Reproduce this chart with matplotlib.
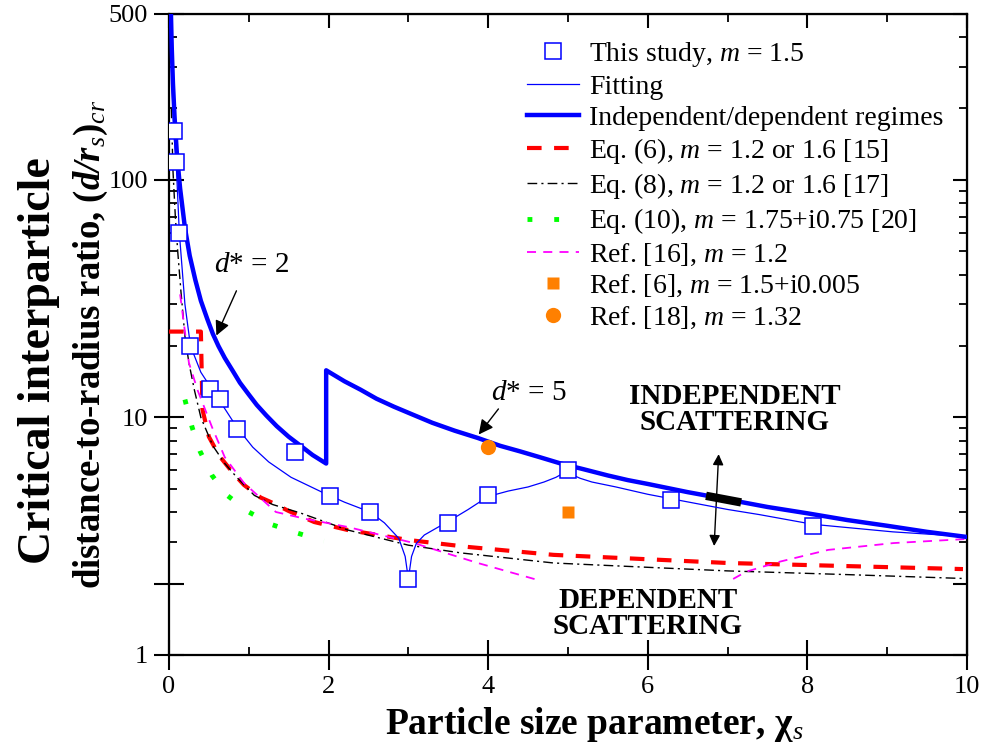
import numpy as np
import matplotlib
matplotlib.use('Agg')
import matplotlib.pyplot as plt
from matplotlib.lines import Line2D

plt.rcParams['font.family'] = ['Liberation Serif', 'DejaVu Serif']
plt.rcParams['mathtext.fontset'] = 'custom'
plt.rcParams['mathtext.rm'] = 'Liberation Serif'
plt.rcParams['mathtext.it'] = 'Liberation Serif:italic'
plt.rcParams['mathtext.bf'] = 'Liberation Serif:bold'
plt.rcParams['mathtext.bfit'] = 'Liberation Serif:bold:italic'

# this study, m = 1.5 (squares)
study_x = [0.06, 0.09, 0.13, 0.27, 0.51, 0.64, 0.85, 1.58, 2.02, 2.52, 3.0, 3.5, 4.0, 5.0, 6.29, 8.07]
study_y = [161, 119, 60, 20, 13.2, 12.0, 8.95, 7.16, 4.67, 4.0, 2.09, 3.6, 4.72, 6.0, 4.5, 3.49]

# fitting curve
fit_x = [0.03, 0.06, 0.09, 0.13, 0.2, 0.27, 0.4, 0.51, 0.64, 0.85, 1.05, 1.25, 1.53, 1.94, 2.2, 2.52, 2.7, 2.88,
         2.96, 3.0, 3.04, 3.1, 3.2, 3.35, 3.5, 3.75, 4.0, 4.25, 4.5, 4.7, 4.85, 4.95, 5.0,
         5.05, 5.15, 5.3, 5.6, 6.0, 6.29, 7.0, 7.4, 8.07, 9.07, 10]
fit_y = [300, 161, 119, 60, 30, 20, 15.5, 13.6, 11.7, 9.1, 7.5, 6.5, 5.6, 4.81, 4.4, 4.0, 3.6, 3.1,
         2.6, 2.09, 2.6, 2.95, 3.2, 3.42, 3.65, 4.1, 4.65, 4.9, 5.1, 5.35, 5.6, 5.85, 6.05,
         5.75, 5.55, 5.35, 5.1, 4.75, 4.55, 4.1, 3.9, 3.55, 3.3, 3.15]

# independent/dependent regime boundary (d* = 2 then d* = 5)
reg_x = [0.025, 0.035, 0.05, 0.07, 0.1, 0.14, 0.2, 0.26, 0.33, 0.4, 0.48, 0.55, 0.62, 0.7, 0.8, 0.89,
         1.0, 1.1, 1.22, 1.35, 1.5, 1.65, 1.8, 1.97,
         1.97, 2.2, 2.4, 2.6, 2.82, 3.05, 3.3, 3.58, 3.87, 4.15, 4.4, 4.65, 4.91, 5.2, 5.5, 5.75,
         6.0, 6.5, 6.95, 7.5, 8.0, 8.5, 9.0, 9.5, 10]
reg_y = [500, 360, 255, 185, 128, 92, 63, 48, 38, 31, 26, 22.5, 20, 17.8, 15.7, 14.0,
         12.5, 11.3, 10.2, 9.2, 8.3, 7.6, 6.95, 6.4,
         15.8, 14.2, 13.1, 12.0, 11.1, 10.3, 9.5, 8.8, 8.2, 7.6, 7.2, 6.8, 6.4, 6.05, 5.7, 5.45,
         5.25, 4.85, 4.55, 4.2, 3.95, 3.7, 3.5, 3.3, 3.14]

# Eq. (6)
eq6_x = [0, 0.4, 0.42, 0.5, 0.63, 0.81, 0.94, 1.15, 1.28, 1.5, 1.82, 2.24, 3.0, 3.75, 4.82, 7.0, 9.95]
eq6_y = [23, 23, 10.8, 8.3, 6.9, 5.8, 5.2, 4.6, 4.4, 4.04, 3.63, 3.36, 3.05, 2.85, 2.64, 2.44, 2.30]

# Eq. (8)
eq8_x = [0.03, 0.05, 0.08, 0.11, 0.15, 0.2, 0.25, 0.32, 0.4, 0.55, 0.7, 0.85, 1.07, 1.3, 1.65, 2.24,
         3.0, 3.66, 4.82, 6.0, 7.0, 8.5, 9.95]
eq8_y = [200, 110, 70, 50, 34, 22, 17, 13, 10, 7.6, 6.4, 5.6, 4.7, 4.3, 3.96, 3.36,
         2.9, 2.69, 2.44, 2.34, 2.26, 2.18, 2.1]

# Eq. (10)
eq10_x = [0.2, 0.29, 0.39, 0.54, 0.73, 1.0, 1.3, 1.61, 1.94]
eq10_y = [11.9, 9.1, 7.2, 5.7, 4.7, 4.0, 3.53, 3.26, 3.02]

# Ref. [16], two pieces
r16a_x = [0.14, 0.2, 0.25, 0.36, 0.54, 0.7, 0.94, 1.34, 1.7, 2.24, 3.07, 3.87, 4.62]
r16a_y = [33, 23, 17, 13, 9.1, 6.8, 5.3, 4.0, 3.75, 3.46, 2.96, 2.44, 2.07]
r16b_x = [7.07, 7.23, 7.63, 8.26, 9.08, 10]
r16b_y = [2.09, 2.24, 2.46, 2.77, 2.96, 3.08]

ref6_x, ref6_y = [5.0], [4.0]
ref18_x, ref18_y = [4.0], [7.5]

bar_x = [6.73, 7.17]
bar_y = [4.68, 4.39]

fig = plt.figure(figsize=(9.84, 7.56), dpi=100)
ax = fig.add_axes([0.1717, 0.1336, 0.8110, 0.8479])

ax.plot(reg_x, reg_y, color='#0000ff', lw=3.2, zorder=4)
ax.plot(fit_x, fit_y, color='#0000ff', lw=0.9, zorder=4)
ax.plot(eq6_x, eq6_y, color='#ff0000', lw=3, dashes=(3.5, 3), zorder=3)
ax.plot(eq8_x, eq8_y, color='black', lw=1.0, dashes=(7, 3, 1.5, 3), zorder=3)
ax.plot(eq10_x, eq10_y, color='#00ff00', lw=3.5, dashes=(1, 4.5), zorder=3)
ax.plot(r16a_x, r16a_y, color='#ff00ff', lw=1.3, dashes=(5, 4), zorder=3)
ax.plot(r16b_x, r16b_y, color='#ff00ff', lw=1.3, dashes=(5, 4), zorder=3)
ax.plot(study_x, study_y, ls='none', marker='s', ms=11, mfc='white', mec='#0000ff', mew=1.1, zorder=5)
ax.plot(ref6_x, ref6_y, ls='none', marker='s', ms=8.5, color='#ff8000', mec='none', zorder=5)
ax.plot(ref18_x, ref18_y, ls='none', marker='o', ms=11, color='#ff8000', mec='none', zorder=5)
ax.plot(bar_x, bar_y, color='black', lw=6, solid_capstyle='butt', zorder=6)

ax.set_yscale('log')
ax.set_xlim(0, 10)
ax.set_ylim(1, 500)
ax.set_xticks([0, 2, 4, 6, 8, 10])
ax.set_xticks([1, 3, 5, 7, 9], minor=True)
ax.set_yticks([1, 2, 10, 100, 500])
ax.set_yticklabels(['1', '', '10', '100', '500'])
ax.set_yticks([3, 4, 5, 6, 7, 8, 9, 20, 30, 40, 50, 60, 70, 80, 90, 200, 300, 400], minor=True)
ax.yaxis.set_minor_formatter(plt.NullFormatter())
ax.tick_params(which='major', direction='inout', length=22, width=1.5, labelsize=19, pad=4)
ax.tick_params(which='minor', direction='in', length=6, width=1.3)
for s in ax.spines.values():
    s.set_linewidth(1.6)

sx = ax.secondary_xaxis('top')
sx.set_xticks([0, 2, 4, 6, 8, 10])
sx.set_xticks([1, 3, 5, 7, 9], minor=True)
sx.tick_params(which='major', direction='in', length=10, width=1.5, labeltop=False)
sx.tick_params(which='minor', direction='in', length=6, width=1.3)
sy = ax.secondary_yaxis('right')
sy.set_yticks([1, 2, 10, 100, 500])
sy.set_yticks([3, 4, 5, 6, 7, 8, 9, 20, 30, 40, 50, 60, 70, 80, 90, 200, 300, 400], minor=True)
sy.tick_params(which='major', direction='in', length=10, width=1.5, labelright=False)
sy.tick_params(which='minor', direction='in', length=6, width=1.3, labelright=False)

# axis titles
ax.text(0.533, -0.108, r'Particle size parameter, χ$_{\mathit{s}}$', transform=ax.transAxes,
        fontsize=27, fontweight='bold', ha='center', va='center')
fig.text(0.040, 0.523, 'Critical interparticle', rotation=90, fontsize=33, fontweight='bold',
         ha='center', va='center')
fig.text(0.092, 0.545,
         r'distance-to-radius ratio, $\mathbf{(}\mathbfit{d/r}_{\mathit{s}}\mathbf{)}_{\mathit{cr}}$',
         rotation=90, fontsize=26.5, fontweight='bold', ha='center', va='center')

# annotations
ax.text(1.03, 44, r'$d$* = 2', fontsize=21, ha='center', va='center')
ax.annotate('', xy=(0.58, 21.6), xytext=(0.86, 35),
            arrowprops=dict(arrowstyle='-|>', color='black', lw=1, mutation_scale=22))
ax.text(4.51, 12.7, r'$d$* = 5', fontsize=21, ha='center', va='center')
ax.annotate('', xy=(3.86, 8.3), xytext=(4.15, 11.1),
            arrowprops=dict(arrowstyle='-|>', color='black', lw=1, mutation_scale=22))
ax.annotate('', xy=(6.89, 7.2), xytext=(6.83, 2.8),
            arrowprops=dict(arrowstyle='<|-|>', color='black', lw=1, mutation_scale=16))
ax.text(7.09, 10.8, 'INDEPENDENT\nSCATTERING', fontsize=21, fontweight='bold', ha='center', va='center',
        linespacing=0.95)
ax.text(6.0, 1.5, 'DEPENDENT\nSCATTERING', fontsize=21, fontweight='bold', ha='center', va='center',
        linespacing=0.95)

handles = [
    Line2D([], [], ls='none', marker='s', ms=11, mfc='white', mec='#0000ff', mew=1.1),
    Line2D([], [], color='#0000ff', lw=0.9),
    Line2D([], [], color='#0000ff', lw=3.2),
    Line2D([], [], color='#ff0000', lw=3, dashes=(3.5, 3)),
    Line2D([], [], color='black', lw=1.0, dashes=(7, 3, 1.5, 3)),
    Line2D([], [], color='#00ff00', lw=3.5, dashes=(1, 4.5)),
    Line2D([], [], color='#ff00ff', lw=1.3, dashes=(5, 4)),
    Line2D([], [], ls='none', marker='s', ms=8.5, color='#ff8000', mec='none'),
    Line2D([], [], ls='none', marker='o', ms=11, color='#ff8000', mec='none'),
]
labels = [
    r'This study, $m$ = 1.5',
    'Fitting',
    'Independent/dependent regimes',
    r'Eq. (6), $m$ = 1.2 or 1.6 [15]',
    r'Eq. (8), $m$ = 1.2 or 1.6 [17]',
    r'Eq. (10), $m$ = 1.75+i0.75 [20]',
    r'Ref. [16], $m$ = 1.2',
    r'Ref. [6], $m$ = 1.5+i0.005',
    r'Ref. [18], $m$ = 1.32',
]
ax.legend(handles, labels, loc='upper left', bbox_to_anchor=(0.536, 0.947), bbox_transform=fig.transFigure,
          frameon=False, fontsize=20, handlelength=1.87, handletextpad=0.35, labelspacing=0.19,
          borderpad=0, borderaxespad=0)

fig.savefig('out.png', dpi=100)
